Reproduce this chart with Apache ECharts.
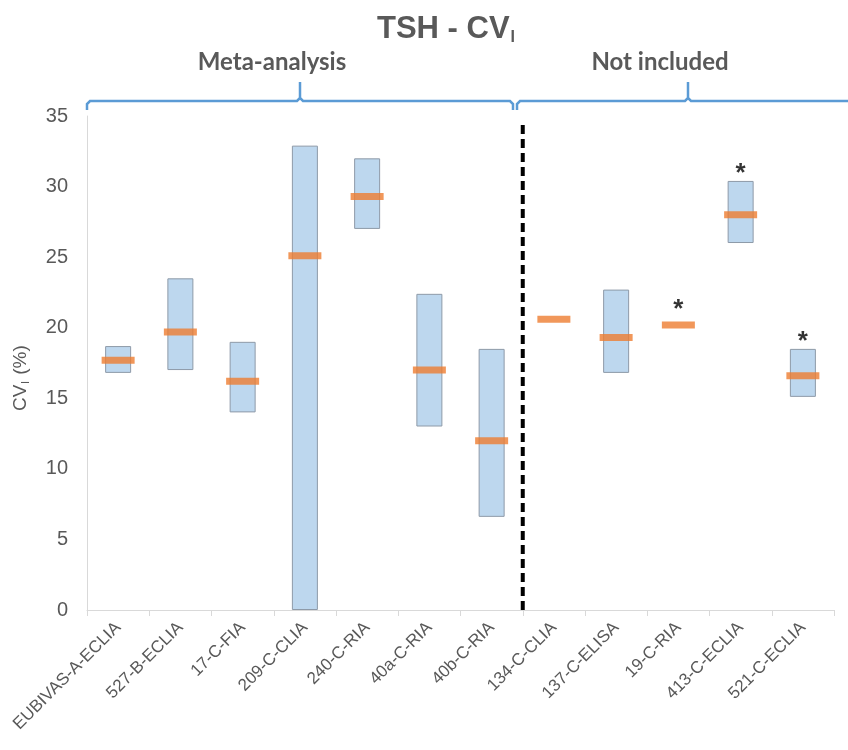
<!DOCTYPE html>
<html><head><meta charset="utf-8">
<script src="https://cdn.jsdelivr.net/npm/echarts@6/dist/echarts.min.js"></script>
<style>html,body{margin:0;padding:0;background:#fff}#c{width:848px;height:750px}</style>
</head><body><div id="c"></div>
<script>
const categories = ['EUBIVAS-A-ECLIA','527-B-ECLIA','17-C-FIA','209-C-CLIA','240-C-RIA','40a-C-RIA','40b-C-RIA','134-C-CLIA','137-C-ELISA','19-C-RIA','413-C-ECLIA','521-C-ECLIA'];
const lower  = [16.8, 17.0, 14.0, 0.0, 27.0, 13.0, 6.6, null, 16.8, null, 26.0, 15.1];
const upper  = [18.7, 23.5, 19.0, 32.9, 32.0, 22.4, 18.5, null, 22.7, null, 30.4, 18.5];
const median = [17.7, 19.7, 16.2, 25.1, 29.3, 17.0, 12.0, 20.6, 19.3, 20.2, 28.0, 16.6];
const flagged = [false,false,false,false,false,false,false,false,false,true,true,true];
const yTicks = [0,5,10,15,20,25,30,35];
const groups = ['Meta-analysis','Not included'];
const dividerAfter = 7; // number of categories in the first group

const chart = echarts.init(document.getElementById('c'));
const base = lower.map(v => v == null ? '-' : v);
const range = lower.map((v,i) => v == null ? '-' : +(upper[i]-v).toFixed(2));
const starData = [];
flagged.forEach((f,i) => {
  if (!f) return;
  const hasBox = upper[i] != null;
  starData.push({value:[i, hasBox ? upper[i] : median[i]], label:{distance: hasBox ? -6 : 2}});
});

const grey = '#595959';
const blue = '#5b9bd5';
const yFont = 'Liberation Sans';
chart.setOption({
  animation:false,
  title:{text:'{a|TSH - CV}{b|I}', left:372, top:7,
    textStyle:{rich:{a:{fontFamily:'Liberation Sans',fontWeight:'bold',fontSize:31,color:grey},
                     b:{fontFamily:'Liberation Sans',fontWeight:'bold',fontSize:16,color:grey,padding:[18,0,0,1]}}}},
  grid:{left:87, right:14, top:116, bottom:140},
  xAxis:[{type:'category', data:categories,
    axisLine:{lineStyle:{color:'#d9d9d9',width:1}},
    axisTick:{show:true,length:6,lineStyle:{color:'#d9d9d9'}},
    axisLabel:{rotate:45, interval:0, fontFamily:'Liberation Sans', fontSize:17, color:grey, margin:15}},
    {type:'value', min:0, max:categories.length, show:false}],
  yAxis:{type:'value', min:0, max:35, interval:5,
    axisLine:{show:true,lineStyle:{color:'#d9d9d9'}}, axisTick:{show:false}, splitLine:{show:false},
    axisLabel:{fontFamily:'Liberation Sans', fontSize:20, color:grey, margin:19,
      formatter:v => yTicks.includes(v) ? String(v) : ''}},
  series:[
    {type:'bar', stack:'r', data:base, barWidth:26, itemStyle:{color:'transparent'}, silent:true},
    {type:'bar', stack:'r', data:range, barWidth:26, itemStyle:{color:'#bdd7ee', borderColor:'#8e9aa8', borderWidth:1}},
    {type:'scatter', data:median, symbol:'rect', symbolSize:[33,7], itemStyle:{color:'#ed7d31'}, z:5},
    {type:'scatter', data:starData, symbolSize:0, z:6,
      label:{show:true, formatter:'*', position:'top', fontFamily:'Liberation Sans', fontWeight:'bold', fontSize:26, color:'#000'}},
    {type:'line', xAxisIndex:1, data:[[dividerAfter,0],[dividerAfter,34.4]], symbol:'none', z:4,
      lineStyle:{color:'#000', width:4, type:[9,5]}}
  ],
  graphic:[
    {type:'polyline', shape:{points:[[87,110],[87,104],[90,101],[297,101],[300,98],[300,82],[300,98],[303,101],[510,101],[513,104],[513,110]]},
      style:{stroke:blue, lineWidth:2.5, fill:null}},
    {type:'polyline', shape:{points:[[517,110],[517,104],[520,101],[685,101],[688,98],[688,82],[688,98],[691,101],[848,101]]},
      style:{stroke:blue, lineWidth:2.5, fill:null}},
    {type:'text', x:272, y:62, style:{text:groups[0], fontFamily:'Lato', fontWeight:'bold', fontSize:24, fill:grey, align:'center', verticalAlign:'middle'}},
    {type:'text', x:660, y:62, style:{text:groups[1], fontFamily:'Lato', fontWeight:'bold', fontSize:24, fill:grey, align:'center', verticalAlign:'middle'}},
    {type:'text', x:11, y:411, rotation:Math.PI/2, style:{text:'CV', fontFamily:yFont, fontSize:19, fill:grey}},
    {type:'text', x:20, y:384, rotation:Math.PI/2, style:{text:'I', fontFamily:yFont, fontSize:11, fill:grey}},
    {type:'text', x:11, y:380, rotation:Math.PI/2, style:{text:' (%)', fontFamily:yFont, fontSize:19, fill:grey}}
  ]
});
</script></body></html>
